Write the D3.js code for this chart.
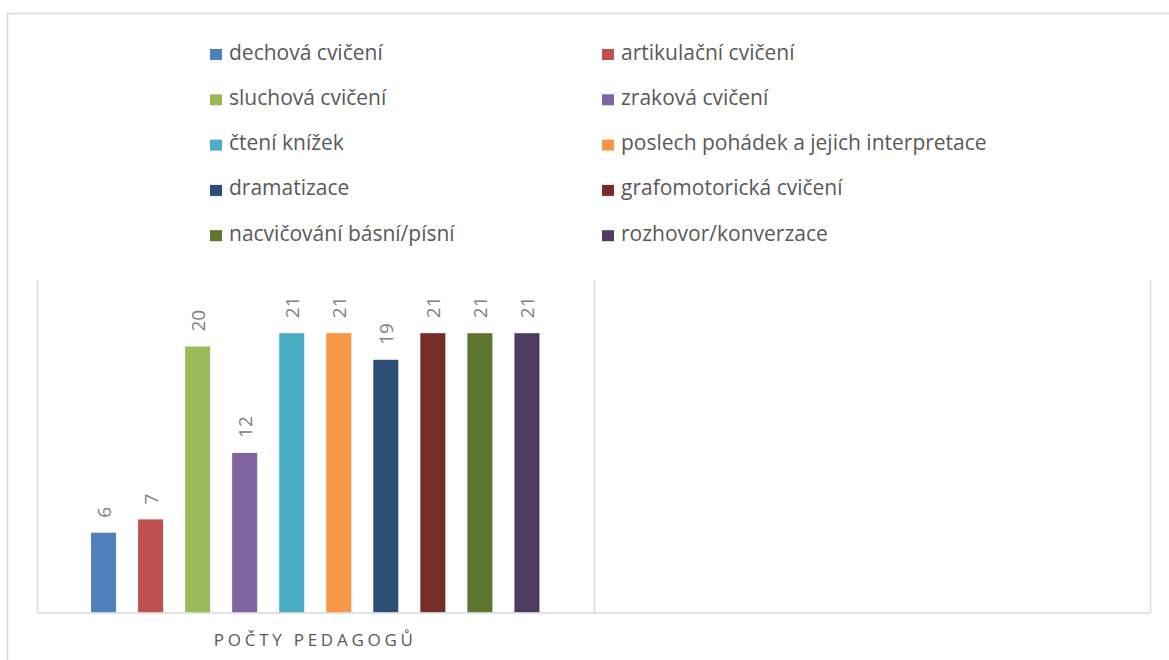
<!DOCTYPE html>
<html>
<head>
<meta charset="utf-8">
<script src="https://cdn.jsdelivr.net/npm/d3@7"></script>
<style>
  body { margin: 0; background: #fff; }
  svg { display: block; }
  text { font-family: "Open Sans", sans-serif; }
</style>
</head>
<body>
<svg id="chart" width="1169" height="660"></svg>
<script>
// data
var categories = ['POČTY PEDAGOGŮ', '']
var seriesNames = [
  'dechová cvičení', 'artikulační cvičení', 'sluchová cvičení', 'zraková cvičení',
  'čtení knížek', 'poslech pohádek a jejich interpretace', 'dramatizace',
  'grafomotorická cvičení', 'nacvičování básní/písní', 'rozhovor/konverzace'
]
var seriesValues = [6, 7, 20, 12, 21, 21, 19, 21, 21, 21]
var seriesColors = [
  '#4f81bd', '#c0504d', '#9bbb59', '#8064a2', '#4bacc6',
  '#f79646', '#2c4d75', '#772c2a', '#5f7530', '#4d3b62'
]

var svg = d3.select('#chart')

// outer chart border
svg.append('rect')
  .attr('x', 7.5).attr('y', 13.5)
  .attr('width', 1170).attr('height', 660)
  .attr('fill', 'none').attr('stroke', '#d9d9d9').attr('stroke-width', 1.5)

var plot = { left: 37, right: 1150, top: 280, bottom: 612.5 }

var x0 = d3.scaleBand()
  .domain(categories)
  .range([plot.left, plot.right])

var x1 = d3.scaleBand()
  .domain(seriesNames)
  .range([0, x0.bandwidth()])
  .paddingInner(0.468)
  .paddingOuter(1.149)

var y = d3.scaleLinear()
  .domain([0, 25])
  .range([plot.bottom, plot.top])

// category separators (vertical gridlines)
var sepX = [plot.left].concat(categories.map(function(c) { return x0(c) + x0.bandwidth() }))
svg.append('g').selectAll('line')
  .data(sepX)
  .enter().append('line')
  .attr('x1', function(d) { return Math.round(d) + 0.5 })
  .attr('x2', function(d) { return Math.round(d) + 0.5 })
  .attr('y1', plot.top).attr('y2', plot.bottom)
  .attr('stroke', '#d9d9d9').attr('stroke-width', 1.5)

// bars
var bars = svg.append('g')
bars.selectAll('rect')
  .data(seriesValues)
  .enter().append('rect')
  .attr('x', function(d, i) { return x0(categories[0]) + x1(seriesNames[i]) })
  .attr('y', function(d) { return y(d) })
  .attr('width', x1.bandwidth())
  .attr('height', function(d) { return y(0) - y(d) })
  .attr('fill', function(d, i) { return seriesColors[i] })

// value labels, rotated
bars.selectAll('text')
  .data(seriesValues)
  .enter().append('text')
  .attr('transform', function(d, i) {
    var cx = x0(categories[0]) + x1(seriesNames[i]) + x1.bandwidth() / 2
    return 'translate(' + (cx + 7) + ',' + (y(d) - 15) + ') rotate(-90)'
  })
  .attr('fill', '#808080')
  .style('font-size', '19px')
  .text(function(d) { return d })

// x axis line
var xAxis = d3.axisBottom(x0).tickSize(0).tickPadding(21)
var axisG = svg.append('g')
  .attr('transform', 'translate(0,' + plot.bottom + ')')
  .call(xAxis)
axisG.select('.domain').attr('stroke', '#d9d9d9').attr('stroke-width', 1.5)
axisG.selectAll('text')
  .attr('fill', '#595959')
  .style('font-size', '17px')
  .style('letter-spacing', '0.22em')
  .style('font-family', '"Open Sans", sans-serif')

// legend, two columns
var legendX = [210, 602]
var legendY0 = 49
var legendStep = 45.3
var legend = svg.append('g').selectAll('g')
  .data(seriesNames)
  .enter().append('g')
  .attr('transform', function(d, i) {
    return 'translate(' + legendX[i % 2] + ',' + (legendY0 + Math.floor(i / 2) * legendStep) + ')'
  })
legend.append('rect')
  .attr('width', 12).attr('height', 11)
  .attr('fill', function(d, i) { return seriesColors[i] })
legend.append('text')
  .attr('x', 19).attr('y', 10.5)
  .attr('fill', '#595959')
  .style('font-size', '21px')
  .text(function(d) { return d })
</script>
</body>
</html>
